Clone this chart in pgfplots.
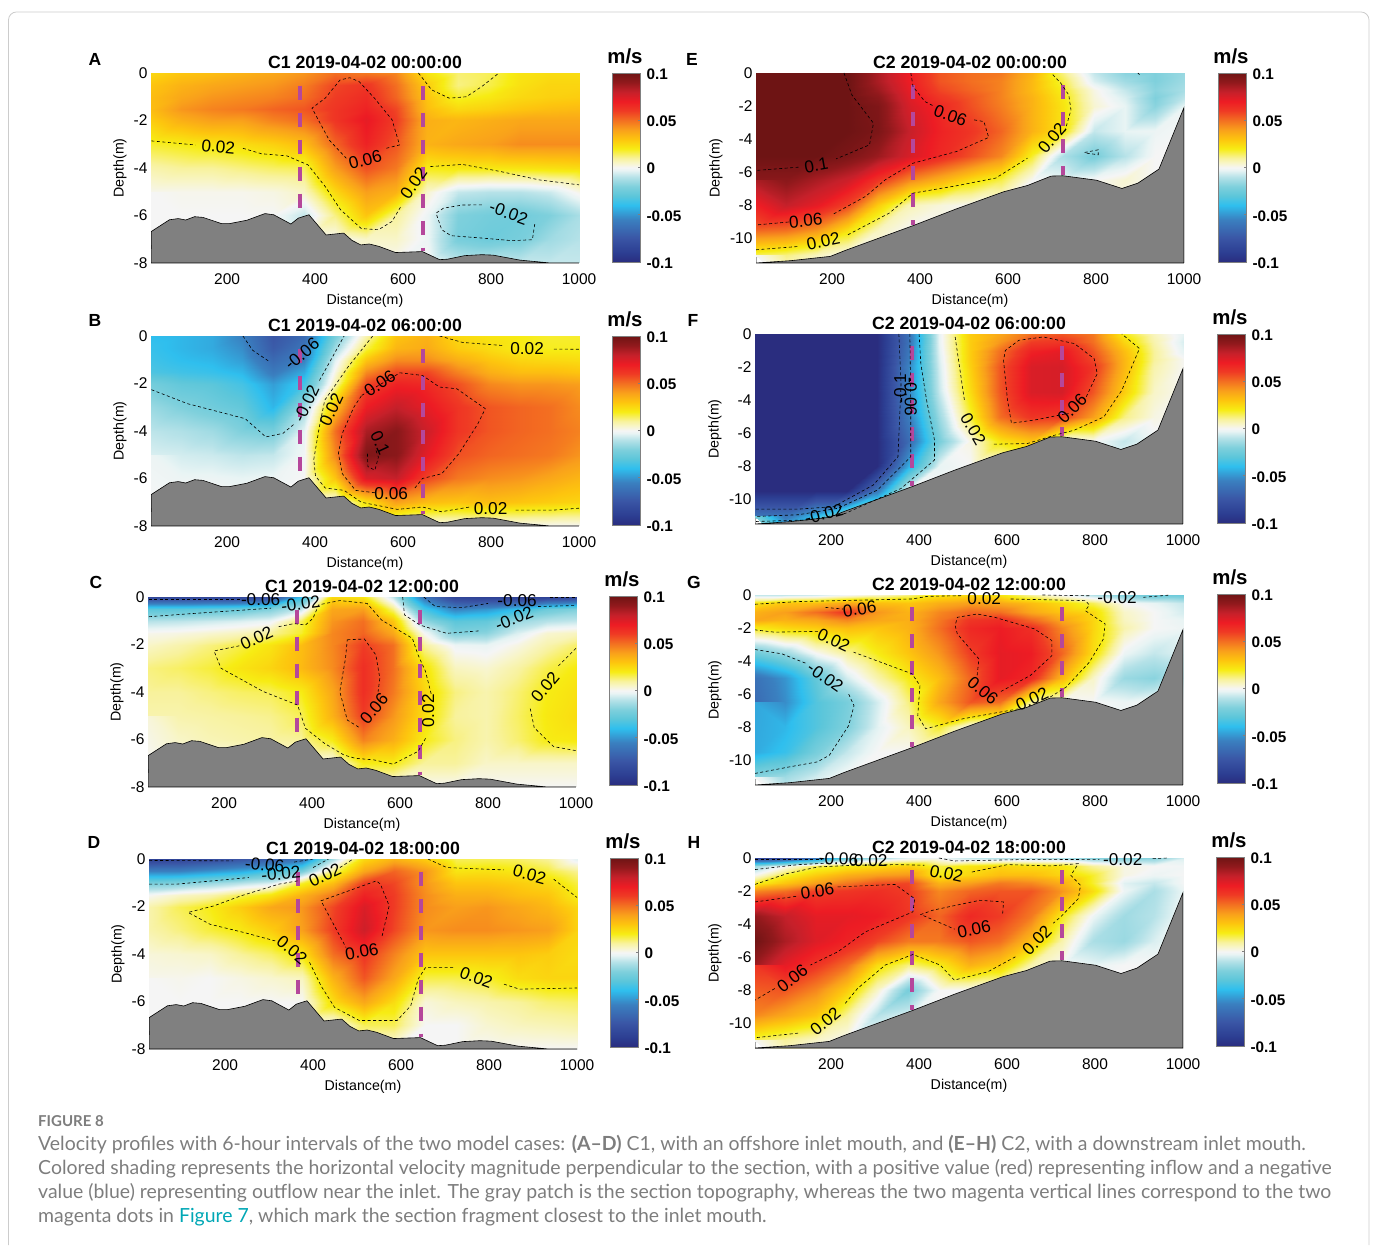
\documentclass[border=0pt]{standalone}
\usepackage{fontspec}
\setmainfont{Liberation Sans}
\newfontfamily\capfont{Lato}
\usepackage{pgfplots}
\pgfplotsset{compat=1.18}
\definecolor{capgray}{RGB}{125,125,125}
\definecolor{linkc}{RGB}{0,167,181}
\pgfplotstableset{
 tabA/.style={header=false,row sep=\\,x expr={25+70*mod(\coordindex,15)},y expr={-max(0.5*floor(\coordindex/15),floor(\coordindex/15)-2)},meta expr={\thisrowno{0}/1000}},
 tabB/.style={header=false,row sep=\\,x expr={25+70*mod(\coordindex,15)},y expr={-max(0.5*floor(\coordindex/15),1.5*floor(\coordindex/15)-4)},meta expr={\thisrowno{0}/1000}},
}
\pgfplotsset{
 /pgfplots/colormap={vel}{rgb255(0)=(42,45,127); rgb255(10)=(44,62,146); rgb255(25)=(58,85,165); rgb255(45)=(58,128,192); rgb255(60)=(47,191,238); rgb255(70)=(92,198,218); rgb255(80)=(127,208,220); rgb255(90)=(182,226,232); rgb255(97)=(232,244,244); rgb255(100)=(245,245,245); rgb255(105)=(248,245,200); rgb255(110)=(248,242,156); rgb255(120)=(247,236,19); rgb255(130)=(253,197,14); rgb255(140)=(249,160,27); rgb255(150)=(243,111,33); rgb255(160)=(239,59,36); rgb255(170)=(237,28,36); rgb255(180)=(197,32,42); rgb255(190)=(145,25,28); rgb255(200)=(110,20,20)},
 pan/.style={anchor=south west,scale only axis,width=428pt,height=190pt,clip mode=individual,
  xmin=27,xmax=1000,xtick={200,400,600,800,1000},
  axis x line*=bottom,axis y line*=left,axis line style={gray!70,line width=.4pt},
  tick style={draw=none},
  tick label style={font=\fontsize{15.5}{16}\selectfont,/pgf/number format/assume math mode=true},
  xticklabel style={/pgf/number format/1000 sep={},yshift=-7pt},
  xlabel={Distance(m)},ylabel={Depth(m)},
  label style={font=\fontsize{14.2}{15}\selectfont},
  xlabel style={at={(axis description cs:0.5,0)},anchor=center,yshift=-38pt},
  title style={font=\bfseries\fontsize{17.7}{18}\selectfont,at={(axis description cs:0.5,1)},anchor=center,yshift=5pt},
  point meta min=-0.1,point meta max=0.1,
 },
 c1/.style={pan,ymin=-8,ymax=0,ytick={-8,-6,-4,-2,0},ylabel style={at={(axis description cs:0,0.5)},anchor=center,yshift=31pt}},
 c2/.style={pan,ymin=-11.5,ymax=0,ytick={-10,-8,-6,-4,-2,0},ylabel style={at={(axis description cs:0,0.5)},anchor=center,yshift=40pt}},
 cbar/.style={anchor=south west,scale only axis,width=28pt,height=189pt,xmin=0,xmax=1,ymin=-0.1,ymax=0.1,
  xtick=\empty,ytick={-0.1,-0.05,0,0.05,0.1},yticklabels={-0.1,-0.05,0,0.05,0.1},ytick pos=right,
  yticklabel style={font=\bfseries\fontsize{15.3}{16}\selectfont,xshift=3pt,yshift=-1pt},
  tick style={gray,line width=.6pt},major tick length=2pt,
  axis line style={gray,line width=.8pt},axis on top,
  title={m/s},title style={font=\bfseries\fontsize{20.4}{21}\selectfont,at={(axis description cs:0.5,1)},anchor=center,yshift=11pt,xshift=-1pt},
  point meta min=-0.1,point meta max=0.1},
 fld/.style={surf,shader=interp,mesh/cols=15,point meta=explicit},
 cont/.style={black,line width=.6pt,dash pattern=on 3pt off 2.5pt},
 mag/.style={color={rgb,255:red,181;green,71;blue,155},line width=4pt,dash pattern=on 14pt off 13pt},
 topo/.style={fill={rgb,255:red,128;green,128;blue,128},draw=black,line width=.6pt},
}
\newcommand{\lab}[4]{\node[font=\fontsize{17.2}{18}\selectfont,rotate=#4] at (axis cs:#1,#2) {#3};}
\newcommand{\cb}[2]{\begin{axis}[cbar,at={(#1pt,#2pt)}]\addplot[surf,shader=interp,mesh/cols=2,point meta=y] coordinates {(0,-0.1)(1,-0.1)(0,0.1)(1,0.1)};\end{axis}}
\newcommand{\tA}{\addplot[topo] coordinates {(27,-8)(28,-6.67)(69,-6.18)(89,-6.13)(106,-6.19)(126,-6.05)(145,-6.08)(187,-6.34)(206,-6.34)(245,-6.2)(286,-5.92)(306,-5.97)(345,-6.36)(362,-6.11)(386,-5.97)(425,-6.82)(465,-6.74)(484,-7.05)(504,-7.24)(523,-7.2)(545,-7.3)(583,-7.56)(644,-7.52)(683,-7.86)(701,-7.84)(740,-7.69)(779,-7.65)(805,-7.67)(866,-7.88)(935,-8)(1000,-8)} -- cycle;
\addplot[mag] coordinates {(365,-.53)(365,-5.7)};
\addplot[mag] coordinates {(645,-.53)(645,-7.5)};}
\newcommand{\tB}{\addplot[topo] coordinates {(27,-11.5)(106,-11.36)(196,-11.1)(231,-10.73)(384,-9.24)(483,-8.22)(590,-7.19)(644,-6.81)(698,-6.24)(725,-6.22)(801,-6.49)(859,-6.99)(895,-6.67)(943,-5.82)(1000,-2.09)(1000,-11.5)} -- cycle;
\addplot[mag] coordinates {(385,-.75)(385,-9.2)};
\addplot[mag] coordinates {(725,-.75)(725,-6.2)};}
\newcommand{\letter}[3]{\node[font=\bfseries\fontsize{17.5}{18}\selectfont] at (#1,#2) {#3};}
\newcommand{\capl}[2]{\node[anchor=base west,inner sep=0pt,font=\capfont\fontsize{19.45}{20}\selectfont,text=capgray] at (38,#1) {#2};}
\begin{document}
\begin{tikzpicture}[x=1pt,y=1pt]
\path[use as bounding box] (0,0) rectangle (1375,1245);
\draw[gray!40,line width=.8pt] (8.5,0) -- (8.5,1225) arc[start angle=180,end angle=90,radius=8] -- (1361,1233) arc[start angle=90,end angle=0,radius=8] -- (1369,0);
% A
\begin{axis}[c1,at={(151pt,982pt)},title={C1 2019-04-02 00:00:00}]
\addplot[fld] table[tabA] {
25\\30\\32\\35\\38\\42\\50\\48\\45\\22\\13\\15\\22\\24\\24\\
30\\35\\38\\40\\42\\47\\58\\62\\50\\28\\12\\16\\23\\26\\26\\
32\\38\\42\\44\\46\\50\\60\\65\\52\\30\\18\\21\\25\\27\\28\\
32\\42\\46\\48\\52\\55\\62\\68\\58\\32\\25\\27\\30\\32\\33\\
28\\36\\40\\40\\46\\50\\62\\72\\60\\36\\34\\36\\38\\38\\38\\
18\\20\\22\\24\\27\\32\\52\\68\\55\\35\\38\\40\\44\\44\\44\\
8\\10\\10\\12\\14\\15\\40\\56\\48\\20\\21\\21\\22\\23\\24\\
1\\1\\1\\1\\2\\5\\25\\40\\35\\4\\-8\\-10\\-10\\-7\\2\\
0\\0\\0\\0\\0\\-8\\12\\30\\10\\-2\\-20\\-23\\-24\\-20\\-12\\
0\\0\\0\\0\\0\\0\\0\\5\\5\\-2\\-22\\-25\\-22\\-14\\-10\\
0\\0\\0\\0\\0\\0\\0\\0\\0\\0\\-8\\-8\\-8\\-8\\-8\\
};
\tA
\addplot[cont] coordinates {(28,-2.86)(128,-3.03)};
\addplot[cont] coordinates {(236,-3.17)(278,-3.4)(336,-3.49)(384,-3.87)(423,-4.78)(458,-5.76)(505,-6.55)(544,-6.6)(575,-6.25)(595,-5.62)};
\addplot[cont] coordinates {(662,-3.94)(735,-3.85)(822,-4.15)(909,-4.5)(1000,-4.71)};
\addplot[cont] coordinates {(562,-3.17)(592,-3.03)(575,-1.97)(535,-1.06)(500,-.36)(479,-.2)(457,-.29)(423,-1.06)(393,-1.48)(432,-2.82)(471,-3.59)};
\addplot[cont] coordinates {(635,0)(665,-.71)(705,-1.06)(744,-1)(779,-.57)(818,0)};
\addplot[cont] coordinates {(779,-5.55)(735,-5.56)(692,-5.69)(675,-5.9)(688,-6.6)(709,-6.85)(779,-6.95)(848,-7.06)(894,-7.02)(900,-6.29)};
\lab{180}{-3.1}{0.02}{-5}
\lab{514}{-3.65}{0.06}{15}
\lab{624}{-4.64}{0.02}{55}
\lab{840}{-5.9}{-0.02}{-20}
\end{axis}
\cb{612}{983}
% B
\begin{axis}[c1,at={(151pt,719pt)},title={C1 2019-04-02 06:00:00}]
\addplot[fld] table[tabA] {
-40\\-42\\-45\\-55\\-75\\-65\\-22\\8\\30\\35\\25\\22\\20\\18\\18\\
-38\\-42\\-45\\-52\\-72\\-60\\-14\\16\\34\\37\\28\\24\\20\\19\\19\\
-36\\-40\\-42\\-48\\-65\\-55\\-4\\30\\44\\44\\36\\30\\26\\25\\24\\
-33\\-36\\-38\\-42\\-58\\-45\\2\\44\\58\\58\\46\\36\\32\\32\\30\\
-23\\-28\\-30\\-35\\-48\\-35\\8\\58\\68\\66\\56\\45\\42\\42\\40\\
-15\\-20\\-24\\-28\\-42\\-14\\32\\70\\80\\72\\62\\55\\52\\50\\44\\
-9\\-11\\-14\\-20\\-22\\-3\\50\\85\\92\\78\\62\\55\\52\\50\\46\\
-5\\-6\\-7\\-9\\-8\\-1\\45\\95\\92\\72\\56\\52\\50\\48\\42\\
-2\\-2\\-2\\-3\\-2\\0\\30\\75\\80\\58\\48\\44\\42\\38\\34\\
0\\0\\0\\0\\0\\0\\0\\22\\40\\32\\30\\32\\30\\28\\26\\
0\\0\\0\\0\\0\\0\\0\\0\\0\\0\\0\\0\\0\\0\\0\\
};
\tA
\addplot[cont] coordinates {(531,0)(475,-1.3)(422,-2.7)(410,-3.8)(397,-5.2)(401,-5.9)(423,-6.4)(466,-6.5)(505,-7)(587,-7.3)(644,-7.2)(687,-7.4)(752,-7.2)};
\addplot[cont] coordinates {(856,-7.33)(943,-7.33)(1000,-7.25)};
\addplot[cont] coordinates {(28,-2.26)(110,-2.85)(241,-3.48)(288,-4.25)(327,-4.1)(353,-3.7)};
\addplot[cont] coordinates {(410,-1.87)(466,0)};
\addplot[cont] coordinates {(236,0)(258,-.6)(298,-1.1)};
\addplot[cont] coordinates {(683,0)(735,-.27)(826,-.4)};
\addplot[cont] coordinates {(943,-.55)(1000,-.56)};
\addplot[cont] coordinates {(506,-2.5)(593,-1.55)(644,-1.66)(683,-2.15)(722,-2.22)(787,-3.06)(770,-3.7)(727,-4.95)(688,-5.8)(644,-6)(627,-6.4)};
\addplot[cont] coordinates {(536,-6.6)(492,-6.5)(462,-5.8)(453,-4.95)(462,-4.1)(488,-3)(506,-2.5)};
\addplot[cont] coordinates {(519,-4.95)(520,-5.5)(536,-5.65)(544,-5.1)(538,-4.8)};
\lab{882}{-.55}{0.02}{0}
\lab{799}{-7.25}{0.02}{0}
\lab{437}{-3.1}{0.02}{65}
\lab{380}{-2.85}{-0.02}{65}
\lab{370}{-.75}{-0.06}{40}
\lab{547}{-2}{0.06}{35}
\lab{573}{-6.63}{0.06}{0}
\lab{548}{-4.5}{0.1}{-65}
\end{axis}
\cb{612}{720}
% C
\begin{axis}[c1,at={(148pt,458pt)},title={C1 2019-04-02 12:00:00}]
\addplot[fld] table[tabA] {
-85\\-85\\-85\\-85\\-80\\-40\\25\\22\\-8\\-60\\-85\\-88\\-88\\-88\\-85\\
-30\\-30\\-28\\-26\\-20\\-8\\38\\40\\12\\-35\\-55\\-50\\-40\\-25\\-20\\
-10\\-9\\-7\\-5\\-2\\15\\42\\50\\30\\-16\\-30\\-28\\-15\\-10\\-8\\
1\\2\\4\\6\\10\\18\\45\\52\\38\\0\\-20\\-18\\-5\\4\\6\\
5\\8\\12\\16\\22\\32\\45\\60\\50\\10\\-2\\-3\\2\\8\\14\\
12\\14\\17\\22\\26\\33\\44\\64\\50\\23\\6\\4\\9\\16\\21\\
10\\10\\12\\14\\15\\20\\38\\64\\48\\26\\12\\8\\13\\20\\23\\
8\\8\\9\\10\\11\\15\\35\\60\\42\\24\\10\\8\\14\\21\\24\\
3\\5\\7\\8\\9\\10\\20\\46\\36\\20\\12\\8\\13\\20\\21\\
0\\0\\0\\0\\0\\0\\0\\20\\20\\10\\10\\5\\5\\5\\5\\
0\\0\\0\\0\\0\\0\\0\\0\\0\\0\\0\\0\\0\\0\\0\\
};
\tA
\addplot[cont] coordinates {(29,-.1)(237,-.1)};
\addplot[cont] coordinates {(29,-.83)(133,-.69)(307,-.47)};
\addplot[cont] coordinates {(606,0)(610,-.75)(645,-1.18)(706,-1.53)(784,-1.42)};
\addplot[cont] coordinates {(914,-.4)(1000,-.36)};
\addplot[cont] coordinates {(654,0)(680,-.4)(740,-.45)(800,-.27)};
\addplot[cont] coordinates {(940,-.03)(1000,-.03)};
\addplot[cont] coordinates {(324,-1.25)(359,-1.12)(385,-1.18)(402,-.9)(415,-.33)(463,-.15)(525,-.27)(558,-.97)(628,-1.74)(641,-2.44)(658,-3.14)(671,-4.1)};
\addplot[cont] coordinates {(658,-5.95)(641,-6.5)(584,-7.04)(541,-6.86)(498,-6.79)(472,-6.65)(428,-6.16)(385,-5.53)(367,-4.55)(289,-3.98)(193,-3)(177,-2.27)(236,-2.05)};
\addplot[cont] coordinates {(480,-1.8)(519,-1.77)(545,-2.44)(554,-3.42)(550,-4)};
\addplot[cont] coordinates {(506,-5.48)(480,-5.18)(463,-3.98)(476,-2.58)(480,-1.8)};
\addplot[cont] coordinates {(1000,-2.16)(960,-2.9)};
\addplot[cont] coordinates {(896,-4.7)(905,-5.5)(949,-6.3)(1000,-6.47)};
\lab{283}{-.1}{-0.06}{0}
\lab{374}{-.3}{-0.02}{8}
\lab{274}{-1.74}{0.02}{25}
\lab{541}{-4.7}{0.06}{50}
\lab{664}{-4.8}{0.02}{90}
\lab{866}{-.17}{-0.06}{0}
\lab{859}{-.9}{-0.02}{22}
\lab{930}{-3.8}{0.02}{50}
\end{axis}
\cb{609}{460}
% D
\begin{axis}[c1,at={(149pt,196pt)},title={C1 2019-04-02 18:00:00}]
\addplot[fld] table[tabA] {
-88\\-85\\-80\\-75\\-70\\-60\\-12\\25\\35\\28\\15\\15\\14\\10\\-4\\
-55\\-55\\-50\\-45\\-35\\-22\\12\\38\\52\\42\\22\\23\\21\\17\\10\\
-22\\-20\\-15\\-10\\-5\\18\\32\\60\\58\\42\\30\\30\\28\\25\\16\\
0\\5\\8\\15\\22\\35\\48\\68\\60\\44\\36\\36\\32\\30\\19\\
8\\15\\20\\28\\38\\42\\58\\75\\60\\44\\40\\42\\38\\34\\25\\
8\\12\\17\\21\\28\\40\\60\\78\\58\\42\\44\\44\\42\\40\\26\\
3\\4\\5\\10\\14\\22\\50\\62\\46\\30\\30\\30\\30\\28\\24\\
1\\1\\0\\2\\4\\6\\35\\55\\38\\16\\16\\18\\24\\26\\26\\
0\\0\\0\\0\\0\\0\\24\\38\\24\\3\\6\\8\\10\\13\\14\\
0\\0\\0\\0\\0\\0\\0\\15\\15\\0\\0\\4\\6\\7\\8\\
0\\0\\0\\0\\0\\0\\0\\0\\0\\0\\0\\0\\0\\0\\0\\
};
\tA
\addplot[cont] coordinates {(27,-.06)(218,-.08)};
\addplot[cont] coordinates {(357,-.13)(400,0)};
\addplot[cont] coordinates {(27,-1.06)(89,-1.06)(254,-.78)};
\addplot[cont] coordinates {(400,-.36)(435,0)};
\addplot[cont] coordinates {(365,-.92)(322,-1.06)(236,-1.55)(175,-1.97)(116,-2.25)(166,-2.75)(244,-3.1)(314,-3.45)};
\addplot[cont] coordinates {(461,-.36)(491,0)};
\addplot[cont] coordinates {(392,-4.35)(418,-5.34)(449,-6.25)(505,-6.8)(591,-6.8)(622,-6.18)(639,-5.05)(656,-4.56)(721,-4.56)};
\addplot[cont] coordinates {(834,-5.27)(869,-5.48)(1000,-5.43)};
\addplot[cont] coordinates {(661,0)(704,-.36)(834,-.46)};
\addplot[cont] coordinates {(947,-.85)(1000,-1.62)};
\addplot[cont] coordinates {(557,-3.24)(573,-1.97)(553,-1.06)(544,-.92)(418,-1.76)(475,-3.73)};
\lab{290}{-.25}{-0.06}{-5}
\lab{327}{-.62}{-0.02}{5}
\lab{427}{-.69}{0.02}{25}
\lab{352}{-3.83}{0.02}{-40}
\lab{511}{-3.9}{0.06}{10}
\lab{771}{-5}{0.02}{-20}
\lab{892}{-.65}{0.02}{-15}
\end{axis}
\cb{610}{198}
% E
\begin{axis}[c2,at={(756pt,982pt)},title={C2 2019-04-02 00:00:00}]
\addplot[fld] table[tabB] {
105\\105\\105\\100\\85\\70\\55\\50\\48\\35\\12\\-8\\-18\\-20\\-15\\
105\\105\\105\\100\\85\\70\\55\\50\\46\\33\\16\\-5\\-14\\-20\\-14\\
105\\105\\105\\100\\88\\72\\58\\52\\46\\33\\19\\2\\-8\\-18\\-12\\
105\\105\\105\\102\\92\\74\\62\\55\\46\\35\\21\\3\\-5\\-20\\-8\\
105\\105\\105\\102\\95\\76\\66\\56\\47\\35\\22\\4\\-3\\-18\\-2\\
105\\105\\105\\105\\96\\80\\68\\62\\52\\35\\22\\-8\\-3\\-2\\0\\
105\\105\\100\\96\\88\\76\\66\\56\\45\\18\\-12\\-22\\-10\\0\\0\\
92\\92\\85\\78\\62\\45\\35\\24\\16\\0\\-2\\0\\4\\0\\0\\
85\\80\\72\\58\\28\\7\\3\\0\\0\\0\\0\\0\\0\\0\\0\\
52\\50\\42\\23\\6\\0\\0\\0\\0\\0\\0\\0\\0\\0\\0\\
15\\12\\6\\0\\0\\0\\0\\0\\0\\0\\0\\0\\0\\0\\0\\
0\\0\\0\\0\\0\\0\\0\\0\\0\\0\\0\\0\\0\\0\\0\\
};
\tB
\addplot[cont] coordinates {(227,0)(245,-1.33)(294,-3.04)(285,-4.35)(209,-5.2)};
\addplot[cont] coordinates {(124,-5.7)(27,-5.9)};
\addplot[cont] coordinates {(379,0)(384,-.83)(411,-1.73)(433,-2.03)};
\addplot[cont] coordinates {(523,-2.84)(545,-2.94)(556,-3.9)(483,-4.75)(384,-5.46)(321,-6.46)(276,-7.47)(200,-8.58)};
\addplot[cont] coordinates {(101,-9.02)(27,-9.2)};
\addplot[cont] coordinates {(27,-10.7)(124,-10.5)};
\addplot[cont] coordinates {(236,-9.79)(330,-8.48)(384,-7.27)(482,-6.83)(572,-6.36)(644,-5.16)};
\addplot[cont] coordinates {(729,-3.54)(743,-2.24)(738,-1.33)(720,-.62)(698,0)};
\addplot[cont] coordinates {(774,-4.81)(805,-4.65)(805,-4.95)(778,-4.85)};
\addplot[cont] coordinates {(895,0)(899,-.1)};
\lab{164}{-5.6}{0.1}{10}
\lab{469}{-2.58}{0.06}{-20}
\lab{140}{-8.94}{0.06}{5}
\lab{180}{-10.2}{0.02}{12}
\lab{700}{-3.95}{0.02}{50}
\end{axis}
\cb{1218}{983}
% F
\begin{axis}[c2,at={(755pt,721pt)},title={C2 2019-04-02 06:00:00}]
\addplot[fld] table[tabB] {
-110\\-110\\-110\\-110\\-110\\-62\\-3\\28\\38\\50\\55\\48\\20\\6\\-4\\
-110\\-110\\-110\\-110\\-110\\-62\\-3\\28\\42\\60\\62\\50\\26\\8\\-6\\
-110\\-110\\-110\\-110\\-110\\-60\\-4\\28\\50\\68\\72\\55\\32\\10\\-4\\
-110\\-110\\-110\\-110\\-110\\-58\\-5\\28\\52\\72\\74\\58\\34\\10\\0\\
-110\\-110\\-110\\-110\\-110\\-55\\-6\\27\\55\\75\\76\\62\\34\\8\\0\\
-110\\-110\\-110\\-110\\-110\\-55\\-8\\24\\55\\75\\76\\55\\28\\5\\0\\
-110\\-110\\-110\\-110\\-110\\-58\\-15\\17\\50\\62\\60\\40\\12\\2\\0\\
-110\\-110\\-110\\-110\\-110\\-65\\-22\\2\\22\\30\\0\\0\\-8\\-2\\0\\
-110\\-110\\-110\\-110\\-110\\-45\\-3\\0\\0\\0\\0\\0\\0\\0\\0\\
-110\\-110\\-110\\-105\\-58\\0\\0\\0\\0\\0\\0\\0\\0\\0\\0\\
-60\\-60\\-40\\-10\\0\\0\\0\\0\\0\\0\\0\\0\\0\\0\\0\\
-20\\-20\\-10\\0\\0\\0\\0\\0\\0\\0\\0\\0\\0\\0\\0\\
};
\tB
\addplot[cont] coordinates {(354,0)(359,-3)(352,-7.43)(296,-9.14)(206,-10.45)(126,-10.6)(27,-10.6)};
\addplot[cont] coordinates {(379,0)(381,-4)(381,-7.43)(305,-9.45)(215,-10.55)(126,-10.94)(27,-11.05)};
\addplot[cont] coordinates {(400,0)(404,-1.8)(417,-4)(435,-6.42)(435,-7.63)(359,-9.35)(233,-10.85)(152,-11.25)(27,-11.35)};
\addplot[cont] coordinates {(482,-.18)(503,-4)};
\addplot[cont] coordinates {(570,-6.67)(646,-6.63)(709,-6.12)(753,-5.82)(820,-5.02)(861,-3.4)(901,-.88)(861,0)};
\addplot[cont] coordinates {(780,-3.8)(805,-2.4)(798,-1.49)(753,-.58)(682,-.18)(627,-.38)(596,-1)(592,-1.6)(601,-4)(610,-5.4)(664,-5.2)(740,-4.8)};
\lab{357}{-3.3}{-0.1}{90}
\lab{381}{-3.8}{-0.06}{-90}
\lab{184}{-10.9}{-0.02}{15}
\lab{523}{-5.75}{0.02}{-60}
\lab{748}{-4.5}{0.06}{45}
\end{axis}
\cb{1217}{722}
% G
\begin{axis}[c2,at={(755pt,460pt)},title={C2 2019-04-02 12:00:00}]
\addplot[fld] table[tabB] {
-8\\-8\\-6\\0\\5\\12\\22\\25\\22\\10\\0\\-10\\-20\\-25\\-25\\
22\\30\\32\\38\\32\\30\\36\\40\\38\\32\\24\\15\\0\\-3\\-8\\
35\\40\\50\\62\\42\\35\\45\\52\\50\\38\\30\\25\\5\\0\\-6\\
38\\35\\38\\45\\38\\36\\48\\62\\65\\52\\38\\26\\6\\0\\-3\\
20\\25\\28\\32\\30\\35\\50\\66\\70\\64\\45\\26\\8\\0\\-2\\
-25\\-15\\0\\10\\20\\30\\42\\60\\72\\70\\52\\24\\-2\\-8\\-4\\
-62\\-50\\-28\\-6\\8\\20\\32\\52\\72\\66\\34\\5\\-15\\-18\\-6\\
-65\\-52\\-32\\-22\\-6\\12\\38\\55\\50\\10\\0\\0\\-2\\0\\0\\
-46\\-42\\-32\\-20\\-4\\6\\18\\0\\0\\0\\0\\0\\0\\0\\0\\
-45\\-38\\-22\\-8\\0\\0\\0\\0\\0\\0\\0\\0\\0\\0\\0\\
-18\\-14\\-6\\0\\0\\0\\0\\0\\0\\0\\0\\0\\0\\0\\0\\
0\\0\\0\\0\\0\\0\\0\\0\\0\\0\\0\\0\\0\\0\\0\\
};
\tB
\addplot[cont] coordinates {(27,-.56)(124,-.4)(285,-.3)(384,-.24)(420,-.08)(500,-.04)};
\addplot[cont] coordinates {(608,-.24)(778,-.34)(787,-.6)(778,-.95)(823,-1.75)(819,-2.66)(787,-4.07)(734,-5.58)(698,-6.18)};
\addplot[cont] coordinates {(626,-6.89)(500,-7.49)(415,-8.1)(397,-7.3)(402,-5.48)(384,-4.77)(313,-4.07)(251,-3.46)};
\addplot[cont] coordinates {(170,-2.2)(71,-2.25)(27,-2.11)};
\addplot[cont] coordinates {(27,-3.3)(88,-3.56)(146,-4.17)};
\addplot[cont] coordinates {(240,-6)(252,-6.7)(240,-7.9)(196,-9.7)(169,-10.1)(106,-10.4)(27,-10.8)};
\addplot[cont] coordinates {(187,-.75)(227,-.85)};
\addplot[cont] coordinates {(586,-5.84)(653,-4.87)(702,-3.67)(702,-2.76)(662,-2.05)(572,-1.35)(532,-1.15)(487,-1.35)(482,-1.85)(487,-2.36)(536,-3.87)(532,-4.87)};
\addplot[cont] coordinates {(680,0)(790,-.05)};
\addplot[cont] coordinates {(910,-.14)(971,0)};
\lab{265}{-.85}{0.06}{8}
\lab{548}{-.24}{0.02}{0}
\lab{850}{-.14}{-0.02}{0}
\lab{206}{-2.76}{0.02}{-25}
\lab{187}{-4.97}{-0.02}{-35}
\lab{545}{-5.78}{0.06}{-40}
\lab{657}{-6.28}{0.02}{25}
\end{axis}
\cb{1217}{462}
% H
\begin{axis}[c2,at={(755pt,197pt)},title={C2 2019-04-02 18:00:00}]
\addplot[fld] table[tabB] {
-85\\-80\\-60\\-25\\-12\\-3\\-1\\-8\\-10\\-10\\-12\\-18\\-20\\-18\\-5\\
-15\\0\\15\\20\\24\\28\\16\\22\\26\\24\\22\\10\\2\\0\\-1\\
0\\18\\28\\36\\40\\42\\20\\26\\32\\32\\26\\18\\2\\-2\\0\\
18\\30\\40\\48\\56\\58\\35\\40\\48\\45\\36\\18\\-4\\-8\\0\\
45\\50\\60\\62\\64\\60\\45\\52\\55\\55\\42\\24\\-2\\-12\\-2\\
90\\80\\72\\72\\70\\62\\52\\66\\60\\48\\20\\-2\\-14\\-10\\0\\
100\\85\\74\\68\\58\\48\\48\\55\\50\\32\\8\\-12\\-15\\-5\\0\\
88\\72\\62\\50\\24\\12\\20\\35\\28\\8\\0\\-3\\0\\0\\0\\
62\\55\\45\\28\\5\\-22\\0\\0\\0\\0\\0\\0\\0\\0\\0\\
45\\38\\30\\10\\-10\\-5\\0\\0\\0\\0\\0\\0\\0\\0\\0\\
15\\10\\5\\0\\0\\0\\0\\0\\0\\0\\0\\0\\0\\0\\0\\
0\\0\\0\\0\\0\\0\\0\\0\\0\\0\\0\\0\\0\\0\\0\\
};
\tB
\addplot[cont] coordinates {(27,-.1)(179,-.1)};
\addplot[cont] coordinates {(27,-.7)(126,-.4)(200,-.3)};
\addplot[cont] coordinates {(27,-1.6)(99,-.95)(170,-.54)(251,-.44)(350,-.4)(412,-.44)};
\addplot[cont] coordinates {(520,-.85)(601,-.4)(700,-.48)(762,-.34)(745,-1.05)(767,-1.65)(762,-2.46)(722,-3.56)(705,-3.95)};
\addplot[cont] coordinates {(619,-5.98)(556,-6.89)(480,-7.39)(448,-6.48)(386,-5.84)(323,-6.48)(260,-7.9)(229,-8.9)};
\addplot[cont] coordinates {(125,-10.6)(27,-10.88)};
\addplot[cont] coordinates {(445,0)(481,-.18)(664,-.08)(810,-.1)};
\addplot[cont] coordinates {(931,-.04)(965,0)};
\addplot[cont] coordinates {(27,-2.66)(126,-2.3)};
\addplot[cont] coordinates {(215,-1.75)(345,-1.6)(390,-2.46)(386,-3.26)(278,-4.47)(215,-5.68)(153,-6.48)};
\addplot[cont] coordinates {(72,-7.9)(27,-8.6)};
\addplot[cont] coordinates {(590,-3.36)(592,-2.66)(538,-2.56)(431,-3.16)(404,-3.42)(481,-4.31)};
\lab{217}{-.05}{-0.06}{-3}
\lab{290}{-.18}{0.02}{0}
\lab{462}{-.95}{0.02}{-12}
\lab{863}{-.1}{-0.02}{0}
\lab{169}{-2}{0.06}{8}
\lab{112}{-7.3}{0.06}{38}
\lab{525}{-4.31}{0.06}{12}
\lab{187}{-9.9}{0.02}{40}
\lab{668}{-4.97}{0.02}{45}
\end{axis}
\cb{1216}{199}
\letter{95}{1186}{A}
\letter{95}{925}{B}
\letter{96}{663}{C}
\letter{94}{403}{D}
\letter{692}{1186}{E}
\letter{693}{925}{F}
\letter{694}{663}{G}
\letter{694}{403}{H}
\node[anchor=base west,inner sep=0pt,font=\capfont\bfseries\fontsize{15}{15}\selectfont,text=capgray] at (38,119) {FIGURE 8};
\capl{95}{Velocity profiles with 6-hour intervals of the two model cases: {\bfseries (A–D)} C1, with an offshore inlet mouth, and {\bfseries (E–H)} C2, with a downstream inlet mouth.}
\capl{71}{Colored shading represents the horizontal velocity magnitude perpendicular to the section, with a positive value (red) representing inflow and a negative}
\capl{47}{value (blue) representing outflow near the inlet. The gray patch is the section topography, whereas the two magenta vertical lines correspond to the two}
\capl{23}{magenta dots in \textcolor{linkc}{Figure 7}, which mark the section fragment closest to the inlet mouth.}
\end{tikzpicture}
\end{document}
